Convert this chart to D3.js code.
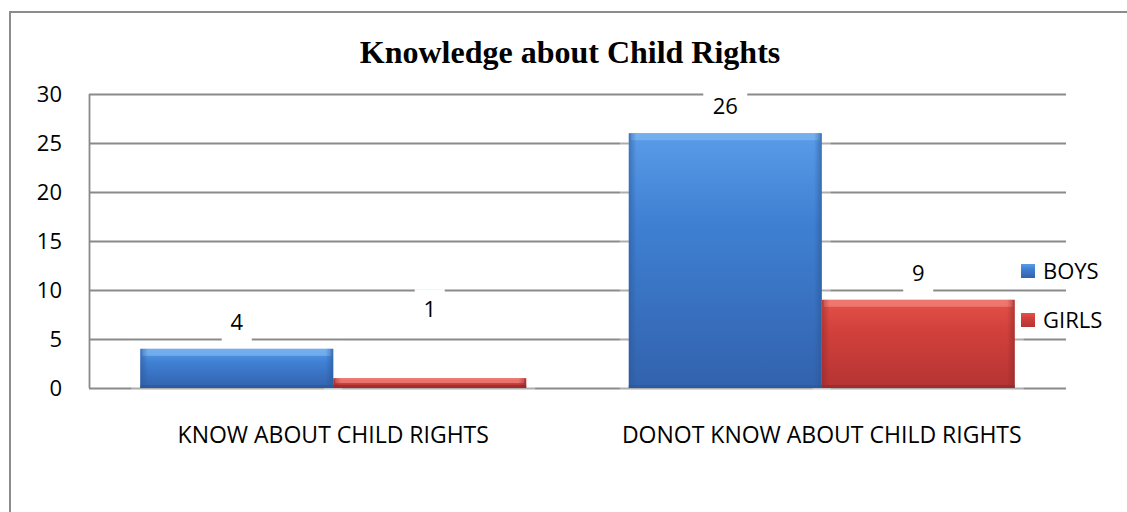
<!DOCTYPE html>
<html>
<head>
<meta charset="utf-8">
<script src="https://cdn.jsdelivr.net/npm/d3@7"></script>
<style>
  html, body { margin: 0; padding: 0; background: #fff; }
  svg { display: block; }
</style>
</head>
<body>
<svg id="chart" width="1127" height="512"></svg>
<script>
// Chart data
const categories = ["KNOW ABOUT CHILD RIGHTS", "DONOT KNOW ABOUT CHILD RIGHTS"];
const seriesNames = ["BOYS", "GIRLS"];
const boys = [4, 26];
const girls = [1, 9];
const yTicks = [0, 5, 10, 15, 20, 25, 30];
const title = "Knowledge about Child Rights";

const W = 1127, H = 512;
const svg = d3.select("#chart");
const margin = { left: 89, right: 61, top: 94, bottom: 124 };
const plotW = W - margin.left - margin.right;
const plotH = H - margin.top - margin.bottom;

const x0 = d3.scaleBand().domain(categories).range([margin.left, margin.left + plotW]).paddingInner(0.21).paddingOuter(0.105);
const x1 = d3.scaleBand().domain(seriesNames).range([0, x0.bandwidth()]).padding(0);
const y = d3.scaleLinear().domain([0, 30]).range([margin.top + plotH, margin.top]);

const palettes = {
  BOYS:  { top: "#5a9ce8", mid: "#3f80d3", bot: "#3262ad", edge: "#2a5696", hi: "#7fb8f2" },
  GIRLS: { top: "#e5524a", mid: "#d2403b", bot: "#b43434", edge: "#8f2a2a", hi: "#f28880" }
};

const defs = svg.append("defs");
Object.entries(palettes).forEach(([k, p]) => {
  const g = defs.append("linearGradient").attr("id", "grad-" + k).attr("x1", 0).attr("y1", 0).attr("x2", 0).attr("y2", 1);
  g.append("stop").attr("offset", "0%").attr("stop-color", p.top);
  g.append("stop").attr("offset", "35%").attr("stop-color", p.mid);
  g.append("stop").attr("offset", "100%").attr("stop-color", p.bot);
  const s = defs.append("linearGradient").attr("id", "side-" + k).attr("x1", 0).attr("y1", 0).attr("x2", 1).attr("y2", 0);
  s.append("stop").attr("offset", "0%").attr("stop-color", p.edge).attr("stop-opacity", 0.55);
  s.append("stop").attr("offset", "4%").attr("stop-color", p.edge).attr("stop-opacity", 0);
  s.append("stop").attr("offset", "96%").attr("stop-color", p.edge).attr("stop-opacity", 0);
  s.append("stop").attr("offset", "100%").attr("stop-color", p.edge).attr("stop-opacity", 0.6);
});

// Outer frame (left and top edges)
svg.append("path")
  .attr("d", `M10,${H} L10,12 L${W},12`)
  .attr("fill", "none").attr("stroke", "#8c8c8c").attr("stroke-width", 2);

// Title
svg.append("text")
  .attr("x", 570).attr("y", 63)
  .attr("text-anchor", "middle")
  .attr("font-family", "'Liberation Serif', 'Times New Roman', serif")
  .attr("font-weight", "bold").attr("font-size", 32)
  .attr("fill", "#000")
  .text(title);

// Gridlines
svg.append("g").selectAll("line").data(yTicks).join("line")
  .attr("x1", margin.left).attr("x2", margin.left + plotW)
  .attr("y1", d => Math.round(y(d)) + 0.5).attr("y2", d => Math.round(y(d)) + 0.5)
  .attr("stroke", "#8a8a8a").attr("stroke-width", 1.8);

// Vertical axis line
svg.append("line")
  .attr("x1", margin.left + 0.5).attr("x2", margin.left + 0.5)
  .attr("y1", y(30)).attr("y2", y(0))
  .attr("stroke", "#8a8a8a").attr("stroke-width", 1.8);

// Y tick labels
svg.append("g").selectAll("text").data(yTicks).join("text")
  .attr("x", 62).attr("y", d => y(d))
  .attr("dy", "0.36em")
  .attr("text-anchor", "end")
  .attr("font-family", "'Open Sans', sans-serif").attr("font-size", 22)
  .attr("fill", "#000")
  .text(d => d);

// Bars
const rows = [];
categories.forEach((c, i) => {
  rows.push({ cat: c, series: "BOYS", value: boys[i], idx: i });
  rows.push({ cat: c, series: "GIRLS", value: girls[i], idx: i });
});

const barG = svg.append("g");
// faint halo behind each bar
barG.selectAll("rect.halo").data(rows).join("rect").attr("class", "halo")
  .attr("x", d => x0(d.cat) + x1(d.series) - 9)
  .attr("y", d => y(d.value) - 8)
  .attr("width", x1.bandwidth() + 18)
  .attr("height", d => y(0) - y(d.value) + 22)
  .attr("fill", "#fff").attr("opacity", 0.3);

const bar = barG.selectAll("g.bar").data(rows).join("g").attr("class", "bar");
bar.append("rect")
  .attr("x", d => x0(d.cat) + x1(d.series))
  .attr("y", d => y(d.value))
  .attr("width", x1.bandwidth())
  .attr("height", d => y(0) - y(d.value))
  .attr("fill", d => `url(#grad-${d.series})`);
// top bevel highlight
bar.append("rect")
  .attr("x", d => x0(d.cat) + x1(d.series) + 2)
  .attr("y", d => y(d.value))
  .attr("width", x1.bandwidth() - 4)
  .attr("height", d => Math.min(7, (y(0) - y(d.value)) / 2))
  .attr("fill", d => palettes[d.series].hi).attr("opacity", 0.7);
// side shading
bar.append("rect")
  .attr("x", d => x0(d.cat) + x1(d.series))
  .attr("y", d => y(d.value))
  .attr("width", x1.bandwidth())
  .attr("height", d => y(0) - y(d.value))
  .attr("fill", d => `url(#side-${d.series})`);
// bottom edge
bar.append("rect")
  .attr("x", d => x0(d.cat) + x1(d.series))
  .attr("y", d => y(0) - 3)
  .attr("width", x1.bandwidth())
  .attr("height", 3)
  .attr("fill", d => palettes[d.series].edge).attr("opacity", 0.6);

// Data labels with white backing boxes; the small GIRLS label of the first group sits higher
const labelNudge = (d) => (d.series === "GIRLS" && d.idx === 0 ? -42 : 0);
const lab = svg.append("g").selectAll("g").data(rows).join("g")
  .attr("transform", d => `translate(${x0(d.cat) + x1(d.series) + x1.bandwidth() / 2},${y(d.value) - 27 + labelNudge(d)})`);
lab.append("rect")
  .attr("x", d => String(d.value).length > 1 ? -22 : -15)
  .attr("width", d => String(d.value).length > 1 ? 44 : 30)
  .attr("y", -20).attr("height", 40)
  .attr("fill", "#fff");
lab.append("text")
  .attr("text-anchor", "middle").attr("dy", "0.36em")
  .attr("font-family", "'Open Sans', sans-serif").attr("font-size", 22)
  .attr("fill", "#000")
  .text(d => d.value);

// Category labels
svg.append("g").selectAll("text").data(categories).join("text")
  .attr("x", d => x0(d) + x0.bandwidth() / 2)
  .attr("y", 443)
  .attr("text-anchor", "middle")
  .attr("font-family", "'Open Sans', sans-serif").attr("font-size", 23)
  .attr("fill", "#000")
  .text(d => d);

// Legend
const leg = svg.append("g").selectAll("g").data(seriesNames).join("g")
  .attr("transform", (d, i) => `translate(1021,${271 + i * 49})`);
leg.append("rect")
  .attr("x", 0).attr("y", -7).attr("width", 14).attr("height", 14)
  .attr("fill", d => `url(#grad-${d})`);
leg.append("text")
  .attr("x", 22).attr("dy", "0.36em")
  .attr("font-family", "'Open Sans', sans-serif").attr("font-size", 22)
  .attr("fill", "#000")
  .text(d => d);
</script>
</body>
</html>
